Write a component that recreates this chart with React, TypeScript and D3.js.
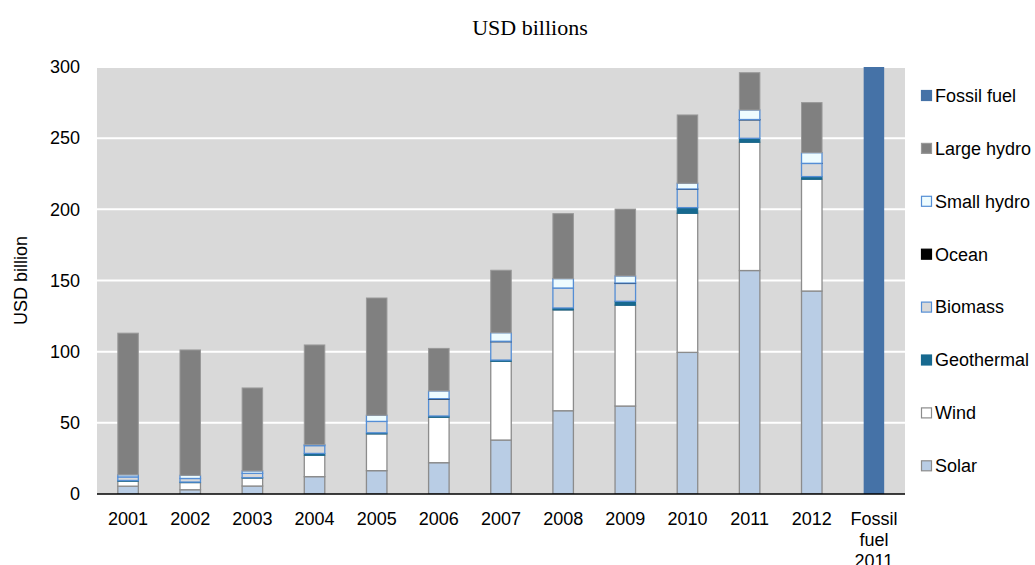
import React from "react";
import * as d3 from "d3";

const categories = ["2001","2002","2003","2004","2005","2006","2007","2008","2009","2010","2011","2012","Fossil fuel 2011"];
const solar      = [5.5, 3.0, 5.6, 12.2, 16.4, 22.0, 37.9, 58.5, 61.8, 99.5, 157.0, 142.6, 0];
const wind       = [3.5, 5.0, 5.6, 15.0, 25.8, 31.9, 55.3, 70.8, 70.8, 97.7, 90.1, 78.5, 0];
const geothermal = [0.5, 0.4, 0.3, 1.3, 0.8, 0.9, 0.9, 1.4, 2.8, 4.0, 2.8, 1.9, 0];
const biomass    = [2.5, 2.5, 3.0, 5.5, 8.0, 11.9, 12.9, 14.0, 12.5, 13.0, 13.0, 9.2, 0];
const ocean      = [0, 0, 0, 0, 0, 0.3, 0.3, 0, 0.3, 0.1, 0.2, 0.1, 0];
const smallHydro = [1.5, 2.2, 1.7, 0.7, 4.3, 5.4, 6.0, 6.6, 5.0, 4.0, 6.7, 7.5, 0];
const largeHydro = [99.5, 88.1, 58.3, 70.0, 82.4, 29.9, 43.9, 45.7, 47.0, 48.0, 26.2, 35.2, 0];
const fossilFuel = [0, 0, 0, 0, 0, 0, 0, 0, 0, 0, 0, 0, 544];
const yTicks = [0, 50, 100, 150, 200, 250, 300];

const seriesDefs = [
  { key: "Solar", values: solar, fill: "#b9cde5", stroke: "#8c8c8c", sw: 1.3 },
  { key: "Wind", values: wind, fill: "#ffffff", stroke: "#8c8c8c", sw: 1.3 },
  { key: "Geothermal", values: geothermal, fill: "#17698f", stroke: "#17698f", sw: 1 },
  { key: "Biomass", values: biomass, fill: "#d9d9d9", stroke: "#558ed5", sw: 1.3 },
  { key: "Ocean", values: ocean, fill: "#000000", stroke: "#000000", sw: 1 },
  { key: "Small hydro", values: smallHydro, fill: "#eefcff", stroke: "#558ed5", sw: 1.3 },
  { key: "Large hydro", values: largeHydro, fill: "#808080", stroke: "#999999", sw: 1 },
  { key: "Fossil fuel", values: fossilFuel, fill: "#4572a7", stroke: "#4572a7", sw: 0 },
];

const W = 1035, H = 565;
const plot = { left: 97, right: 905, top: 67, bottom: 494 };

export default function App() {
  const x = d3.scaleBand<string>().domain(categories).range([plot.left, plot.right]).paddingInner(0.67).paddingOuter(0.335);
  const y = d3.scaleLinear().domain([0, 300]).range([plot.bottom, plot.top]);

  const rows = categories.map((c, i) => {
    const r: any = { cat: c };
    seriesDefs.forEach(s => (r[s.key] = s.values[i]));
    return r;
  });
  const stack = d3.stack<any>().keys(seriesDefs.map(s => s.key));
  const stacked = stack(rows);

  const font = "'Liberation Sans', Arial, sans-serif";
  const fs = 18;
  const legendItems = [...seriesDefs].reverse();

  return (
    <svg width={W} height={H} style={{ position: "absolute", left: 0, top: 0, background: "#fff" }}>
      <defs>
        <clipPath id="plotclip">
          <rect x={plot.left} y={plot.top} width={plot.right - plot.left} height={plot.bottom - plot.top} />
        </clipPath>
      </defs>
      <text x={530} y={35} textAnchor="middle" fontFamily="'Liberation Serif', 'Times New Roman', serif" fontSize={22} fill="#000">USD billions</text>
      <rect x={plot.left} y={plot.top} width={plot.right - plot.left} height={plot.bottom - plot.top} fill="#d9d9d9" />
      {yTicks.filter(t => t > 0).map(t => (
        <line key={t} x1={plot.left} x2={plot.right} y1={y(t)} y2={y(t)} stroke="#ffffff" strokeWidth={2} />
      ))}
      {yTicks.map(t => (
        <text key={"l" + t} x={80} y={y(t)} dy="0.35em" textAnchor="end" fontFamily={font} fontSize={fs} fill="#000">{t}</text>
      ))}
      <text transform={`translate(21,${(plot.top + plot.bottom) / 2}) rotate(-90)`} textAnchor="middle" fontFamily={font} fontSize={fs} dy="0.35em">USD billion</text>
      <g clipPath="url(#plotclip)">
        {stacked.map((layer, li) => {
          const s = seriesDefs[li];
          return layer.map((d, i) => {
            const v = d[1] - d[0];
            if (v <= 0) return null;
            const y0 = y(d[0]);
            const y1 = y(d[1]);
            const h = Math.max(y0 - y1, 0.1);
            return (
              <rect key={s.key + i} x={x(categories[i])!} y={y1} width={x.bandwidth()} height={h}
                fill={s.fill} stroke={s.sw > 0 ? s.stroke : "none"} strokeWidth={s.sw} />
            );
          });
        })}
      </g>
      <line x1={plot.left} x2={plot.right} y1={plot.bottom} y2={plot.bottom} stroke="#000" strokeWidth={1.5} />
      {categories.map(c => {
        const cx = x(c)! + x.bandwidth() / 2;
        const lines = c === "Fossil fuel 2011" ? ["Fossil", "fuel", "2011"] : [c];
        return (
          <text key={"x" + c} x={cx} y={525} textAnchor="middle" fontFamily={font} fontSize={fs} fill="#000">
            {lines.map((ln, k) => (
              <tspan key={k} x={cx} dy={k === 0 ? 0 : 21}>{ln}</tspan>
            ))}
          </text>
        );
      })}
      {legendItems.map((s, i) => {
        const cy = 95.5 + i * 52.9;
        return (
          <g key={"lg" + s.key}>
            <rect x={921.5} y={cy - 5} width={10} height={10} fill={s.fill}
              stroke={s.key === "Fossil fuel" ? s.fill : s.stroke} strokeWidth={1.2} />
            <text x={935} y={cy} dy="0.35em" fontFamily={font} fontSize={fs} fill="#000">{s.key}</text>
          </g>
        );
      })}
    </svg>
  );
}
